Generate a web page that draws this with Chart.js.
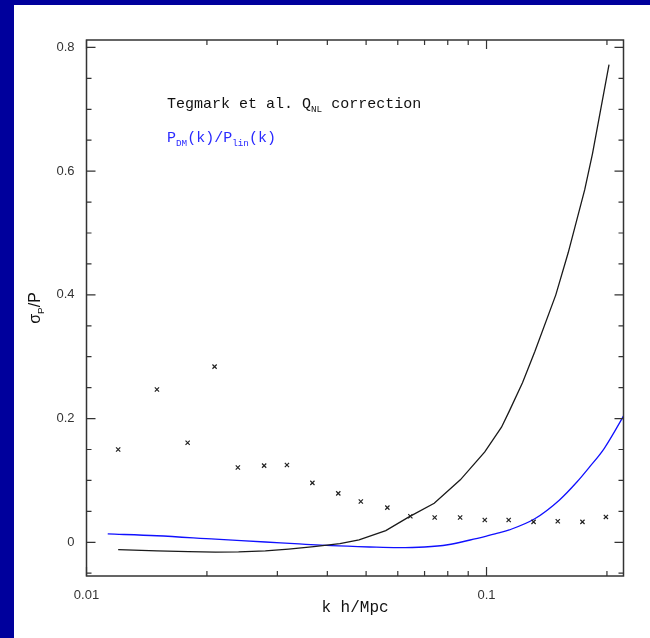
<!DOCTYPE html>
<html>
<head>
<meta charset="utf-8">
<script src="https://cdn.jsdelivr.net/npm/chart.js@4/dist/chart.umd.min.js"></script>
<style>
  html, body { margin: 0; padding: 0; background: #00009c; }
  canvas { display: block; }
</style>
</head>
<body>
<canvas id="sigmaChart" width="650" height="638"></canvas>
<script>
// measured sigma_P/P points (crosses)
const kCross = [0.012, 0.015, 0.0179, 0.0209, 0.0239, 0.0278, 0.0317, 0.0367, 0.0426, 0.0485,
  0.0565, 0.0645, 0.0742, 0.0859, 0.099, 0.1136, 0.1311, 0.1507, 0.1737, 0.1988];
const sigmaCross = [0.150, 0.247, 0.161, 0.284, 0.121, 0.124, 0.125, 0.096, 0.079, 0.066,
  0.056, 0.042, 0.040, 0.040, 0.036, 0.036, 0.033, 0.034, 0.033, 0.041];

// Tegmark et al. Q_NL correction (black)
const kQnl = [0.012, 0.015, 0.018, 0.021, 0.024, 0.028, 0.032, 0.037, 0.043, 0.048, 0.056, 0.064,
  0.074, 0.086, 0.099, 0.109, 0.114, 0.123, 0.132, 0.149, 0.160, 0.176, 0.184, 0.2024];
const qnl = [-0.012, -0.014, -0.015, -0.0158, -0.0155, -0.014, -0.011, -0.007, -0.002, 0.004, 0.019, 0.041,
  0.063, 0.101, 0.146, 0.186, 0.212, 0.258, 0.308, 0.400, 0.468, 0.570, 0.628, 0.772];

// P_DM(k)/P_lin(k) (blue)
const kDm = [0.0113, 0.015, 0.021, 0.028, 0.034, 0.041, 0.051, 0.06, 0.07, 0.08, 0.091, 0.1,
  0.108, 0.114, 0.132, 0.152, 0.168, 0.18, 0.197, 0.225];
const pRatio = [0.0135, 0.0106, 0.005, 0.0005, -0.0027, -0.0055, -0.0076, -0.0087, -0.0076, -0.004, 0.0037, 0.010,
  0.0155, 0.020, 0.038, 0.068, 0.097, 0.12, 0.152, 0.215];

const xMajor = [0.01, 0.1];
const xMinor = [0.02, 0.03, 0.04, 0.05, 0.06, 0.07, 0.08, 0.09, 0.2];
const yMajor = [0, 0.2, 0.4, 0.6, 0.8];
const yMinor = [-0.05, 0.05, 0.1, 0.15, 0.25, 0.3, 0.35, 0.45, 0.5, 0.55, 0.65, 0.7, 0.75];

const toXY = (xs, ys) => xs.map((x, i) => ({ x: x, y: ys[i] }));

// draws text pieces, some of them as subscripts
function richText(ctx, parts, x, y, size, family) {
  let cx = x;
  parts.forEach(([txt, sub]) => {
    const s = sub ? size * 0.62 : size;
    ctx.font = s + "px " + family;
    ctx.fillText(txt, cx, sub ? y + size * 0.28 : y);
    cx += ctx.measureText(txt).width;
  });
  return cx - x;
}
function richWidth(ctx, parts, size, family) {
  let w = 0;
  parts.forEach(([txt, sub]) => {
    ctx.font = (sub ? size * 0.62 : size) + "px " + family;
    w += ctx.measureText(txt).width;
  });
  return w;
}

const frame = {
  id: "frame",
  beforeDraw(chart) {
    const ctx = chart.ctx;
    ctx.save();
    ctx.fillStyle = "#00009c";
    ctx.fillRect(0, 0, chart.width, chart.height);
    ctx.fillStyle = "#ffffff";
    ctx.fillRect(14, 5, chart.width - 14, chart.height - 5);
    ctx.restore();
  },
  afterDraw(chart) {
    const ctx = chart.ctx;
    const a = chart.chartArea;
    const xs = chart.scales.x, ys = chart.scales.y;
    ctx.save();
    ctx.strokeStyle = "#333333";
    ctx.lineWidth = 1.5;
    ctx.strokeRect(a.left, a.top, a.right - a.left, a.bottom - a.top);

    ctx.lineWidth = 1.2;
    ctx.beginPath();
    const xt = (v, len) => {
      const p = xs.getPixelForValue(v);
      ctx.moveTo(p, a.bottom); ctx.lineTo(p, a.bottom - len);
      ctx.moveTo(p, a.top); ctx.lineTo(p, a.top + len);
    };
    const yt = (v, len) => {
      const p = ys.getPixelForValue(v);
      ctx.moveTo(a.left, p); ctx.lineTo(a.left + len, p);
      ctx.moveTo(a.right, p); ctx.lineTo(a.right - len, p);
    };
    xMajor.forEach(v => xt(v, 9));
    xMinor.forEach(v => xt(v, 5));
    yMajor.forEach(v => yt(v, 9));
    yMinor.forEach(v => yt(v, 5));
    ctx.stroke();

    // legend text
    const mono = "'Liberation Mono', monospace";
    ctx.textBaseline = "alphabetic";
    ctx.textAlign = "left";
    ctx.fillStyle = "#111111";
    richText(ctx, [["Tegmark et al. Q", false], ["NL", true], [" correction", false]], 167, 108, 15, mono);
    ctx.fillStyle = "#2a2aff";
    richText(ctx, [["P", false], ["DM", true], ["(k)/P", false], ["lin", true], ["(k)", false]], 167, 142, 15, mono);

    // x axis title
    ctx.fillStyle = "#111111";
    ctx.font = "16px " + mono;
    ctx.textAlign = "center";
    ctx.fillText("k h/Mpc", (a.left + a.right) / 2, 612);

    // y axis title, rotated
    const sans = "'Liberation Sans', sans-serif";
    const yParts = [["\u03c3", false], ["P", true], ["/P", false]];
    ctx.translate(40, 308);
    ctx.rotate(-Math.PI / 2);
    ctx.textAlign = "left";
    const w = richWidth(ctx, yParts, 16, sans);
    richText(ctx, yParts, -w / 2, 0, 16, sans);
    ctx.restore();
  }
};

new Chart(document.getElementById("sigmaChart").getContext("2d"), {
  type: "scatter",
  data: {
    datasets: [
      {
        data: toXY(kCross, sigmaCross),
        showLine: false,
        pointStyle: "crossRot",
        pointRadius: 3,
        borderColor: "#222222",
        borderWidth: 1.2,
      },
      {
        data: toXY(kQnl, qnl),
        showLine: true,
        pointRadius: 0,
        borderColor: "#1a1a1a",
        borderWidth: 1.3,
        tension: 0,
      },
      {
        data: toXY(kDm, pRatio),
        showLine: true,
        pointRadius: 0,
        borderColor: "#1010ff",
        borderWidth: 1.3,
        cubicInterpolationMode: "monotone",
      },
    ],
  },
  options: {
    responsive: false,
    animation: false,
    layout: { padding: { left: 14, top: 40, right: 26.5, bottom: 0 } },
    plugins: {
      legend: { display: false },
      tooltip: { enabled: false },
    },
    scales: {
      x: {
        type: "logarithmic",
        min: 0.01,
        max: 0.22,
        grid: { display: false, drawTicks: false },
        border: { display: false },
        afterBuildTicks: s => { s.ticks = xMajor.map(v => ({ value: v })); },
        afterFit: s => { s.height = 62; },
        ticks: {
          padding: 12,
          color: "#333333",
          font: { family: "'Liberation Sans', sans-serif", size: 13 },
          callback: v => String(v),
        },
      },
      y: {
        min: -0.0545,
        max: 0.812,
        grid: { display: false, drawTicks: false },
        border: { display: false },
        afterBuildTicks: s => { s.ticks = yMajor.map(v => ({ value: v })); },
        afterFit: s => { s.width = 72.5; },
        ticks: {
          padding: 12,
          color: "#333333",
          font: { family: "'Liberation Sans', sans-serif", size: 13 },
          callback: v => String(v),
        },
      },
    },
  },
  plugins: [frame],
});
</script>
</body>
</html>
